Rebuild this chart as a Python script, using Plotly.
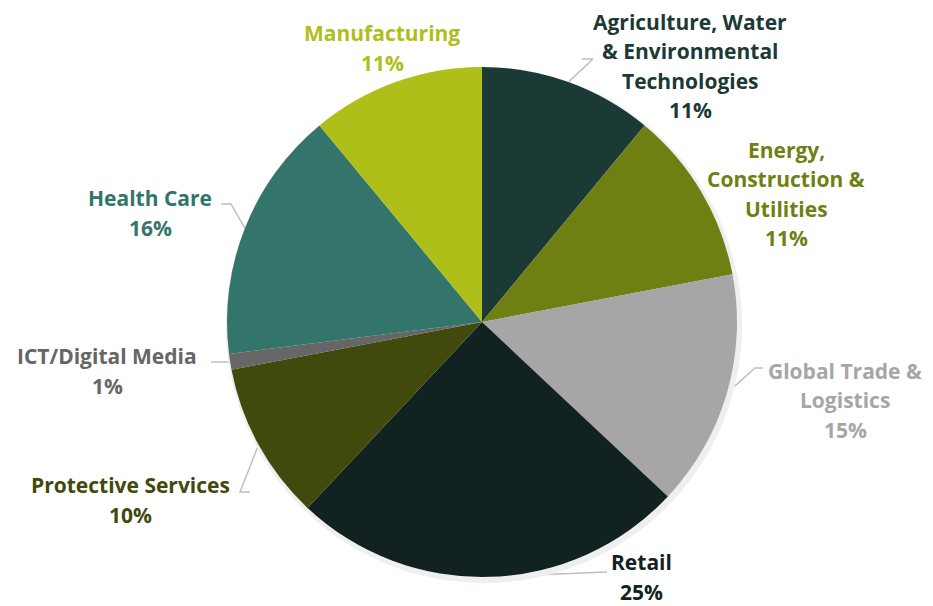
import math
import plotly.graph_objects as go

# ---- data ----
categories = ["Agriculture, Water & Environmental Technologies",
              "Energy, Construction & Utilities",
              "Global Trade & Logistics",
              "Retail",
              "Protective Services",
              "ICT/Digital Media",
              "Health Care",
              "Manufacturing"]
label_lines = [["Agriculture, Water", "& Environmental", "Technologies"],
               ["Energy,", "Construction &", "Utilities"],
               ["Global Trade &", "Logistics"],
               ["Retail"],
               ["Protective Services"],
               ["ICT/Digital Media"],
               ["Health Care"],
               ["Manufacturing"]]
values = [11, 11, 15, 25, 10, 1, 16, 11]
colors = ["#1b3935", "#707f12", "#a6a6a6", "#112220",
          "#414a0c", "#666666", "#33756b", "#adbf18"]

# ---- layout (pixels) ----
W, H = 933, 606
CX, CY, R = 482, 322, 255
LINE_H = 29.5
FONT = "Open Sans"
FSIZE = 21
# label centre positions and leader-line elbow/end (None = no line)
label_pos = [(690, 66), (786, 194), (845, 400), (641, 577),
             (130, 500), (107, 371), (150, 213), (382, 48)]
leader_end = [(582, 59), None, (763, 368), (607, 572),
              (250, 492), (211, 362), (221, 204), None]
leader_elbow = [(593, 59), None, (755, 368), None,
                (240, 492), None, (231, 204), None]

fig = go.Figure()
# soft shadow under the pie
SR = R + 3
fig.add_trace(go.Pie(
    labels=categories, values=[1], sort=False,
    marker=dict(colors=["#efefef"], line=dict(width=0)),
    textinfo="none", hoverinfo="skip", showlegend=False,
    domain=dict(x=[(CX + 2 - SR) / W, (CX + 2 + SR) / W],
                y=[(H - CY - 3 - SR) / H, (H - CY - 3 + SR) / H]),
))
fig.add_trace(go.Pie(
    labels=categories, values=values, sort=False, direction="clockwise",
    rotation=0, marker=dict(colors=colors, line=dict(width=0)),
    textinfo="none", hoverinfo="label+percent", showlegend=False,
    domain=dict(x=[(CX - R) / W, (CX + R) / W],
                y=[(H - CY - R) / H, (H - CY + R) / H]),
))

total = sum(values)
cum = 0
for i, v in enumerate(values):
    mid = (cum + v / 2) / total * 2 * math.pi
    cum += v
    px = CX + R * math.sin(mid)
    py = CY - R * math.cos(mid)
    if leader_end[i] is not None:
        xs, ys = [px], [py]
        if leader_elbow[i] is not None:
            xs.append(leader_elbow[i][0]); ys.append(leader_elbow[i][1])
        xs.append(leader_end[i][0]); ys.append(leader_end[i][1])
        fig.add_trace(go.Scatter(x=xs, y=ys, mode="lines",
                                 line=dict(color="#bfbfbf", width=1.5),
                                 hoverinfo="skip", showlegend=False))
    pct = round(v / total * 100)
    lines = label_lines[i] + [f"{pct}%"]
    n = len(lines)
    for k, t in enumerate(lines):
        fig.add_annotation(x=label_pos[i][0],
                           y=label_pos[i][1] + (k - (n - 1) / 2) * LINE_H,
                           xref="x", yref="y", text=t, showarrow=False,
                           xanchor="center", yanchor="middle", borderpad=0,
                           font=dict(family=FONT, size=FSIZE, color=colors[i],
                                     weight="bold"))

fig.update_layout(
    width=W, height=H, margin=dict(l=0, r=0, t=0, b=0),
    paper_bgcolor="white", plot_bgcolor="rgba(0,0,0,0)",
    xaxis=dict(range=[0, W], visible=False, fixedrange=True),
    yaxis=dict(range=[H, 0], visible=False, fixedrange=True),
)
fig.write_html("out.html", config={"displayModeBar": False},
               post_script="document.body.style.margin='0';")
